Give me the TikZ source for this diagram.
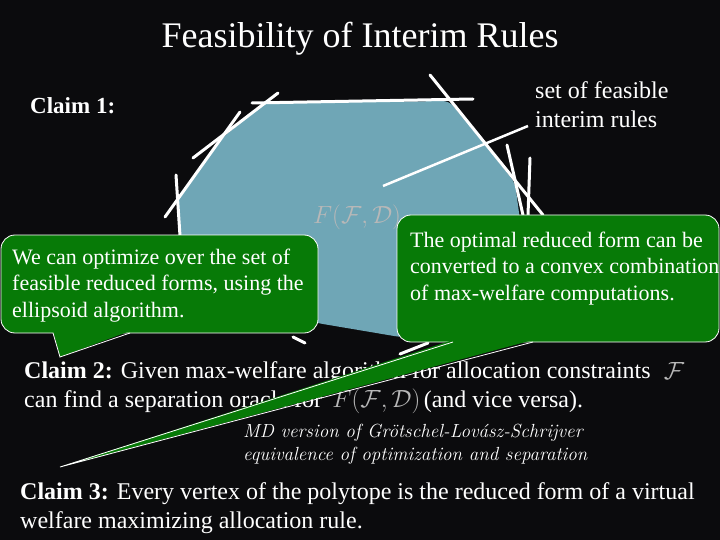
\documentclass[tikz,border=0pt]{standalone}
\usepackage{fontspec}
\newfontfamily\slidefont{Liberation Serif}
\usepackage{xcolor}
\definecolor{slideblack}{HTML}{0B0B0D}
\definecolor{polyblue}{HTML}{6FA6B6}
\definecolor{callgreen}{HTML}{077A07}
\definecolor{mathgray}{HTML}{B8B8B8}
\usetikzlibrary{positioning}
\tikzset{
  slidetext/.style={text=white,font=\slidefont\fontsize{24}{29}\selectfont,inner sep=0pt,anchor=base west},
  mathlabel/.style={text=mathgray,font=\fontsize{23}{27}\selectfont,inner sep=0pt},
  calltext/.style={text=white,font=\slidefont\fontsize{22}{26.5}\selectfont,align=left,inner sep=0pt,anchor=base west},
  tangent/.style={white,line width=3pt,line cap=round},
  callbox/.style={fill=callgreen,draw=white,line width=0.8pt,rounded corners=14pt},
  calltail/.style={draw=white,line width=0.8pt}
}
\begin{document}
\begin{tikzpicture}[x=1pt,y=-1pt]
\useasboundingbox (0,0) rectangle (720,540);
\fill[slideblack] (0,0) rectangle (720,540);
\node[text=white,font=\slidefont\fontsize{36}{40}\selectfont,inner sep=0pt,anchor=base] (title) at (360,48) {Feasibility of Interim Rules};
% the polytope and its supporting lines
\fill[polyblue,rounded corners=6pt] (265,103) -- (449,101) -- (487,147) -- (515,183) -- (522,235)
  -- (470,337) -- (400,337) -- (317,323) -- (250,300) -- (180,236) -- (178,199) -- (222,138) -- cycle;
\node[mathlabel] (poly) at (357,217) {$F(\mathcal{F},\mathcal{D})$};
\draw[tangent] (252,103) -- (473,99);
\draw[tangent] (430,75) -- (543,215);
\draw[tangent] (507,145) -- (523,215);
\draw[tangent] (530,158) -- (528,215);
\draw[tangent] (278,93) -- (193,158);
\draw[tangent] (240,112) -- (165,217);
\draw[tangent] (176,175) -- (180,236);
\draw[tangent] (293,337) -- (305,343);
\draw[tangent] (400,354) -- (428,343);
\node[slidetext,align=left] (setlabel) at (535,128) {set of feasible\\interim rules};
\coordinate (ptrstart) at (528,126);
\coordinate (inside) at (383,186);
\draw[white,line width=2.5pt] (ptrstart) -- (inside);
\node[slidetext,font=\slidefont\bfseries\fontsize{23}{27}\selectfont] (claimone) at (30,114) {Claim 1:};
% claims 2 and 3
\node[slidetext] (claimtwo) at (24,378) {\textbf{Claim 2:} Given max-welfare algorithm for allocation constraints};
\node[mathlabel] (fset) at (674,371) {$\mathcal{F}$};
\node[slidetext] (claimtwob) at (24,407) {can find a separation oracle for};
\node[mathlabel,base right=10pt of claimtwob] (polytwo) {$F(\mathcal{F},\mathcal{D})$};
\node[slidetext,base right=3pt of polytwo] (vice) {(and vice versa).};
\node[text=white,font=\itshape\fontsize{19}{23}\selectfont,align=left,inner sep=0pt,anchor=base west] (gls) at (243,460)
  {MD version of Grötschel-Lovász-Schrijver\\equivalence of optimization and separation};
\node[slidetext,align=left] (claimthree) at (20,528)
  {\textbf{Claim 3:} Every vertex of the polytope is the reduced form of a virtual\\welfare maximizing allocation rule.};
% callouts
\draw[callbox] (1,235) rectangle (318,333);
\coordinate (lefttip) at (60,357);
\fill[callgreen] (53,331) -- (lefttip) -- (130,331) -- cycle;
\draw[calltail] (53,333) -- (lefttip) -- (130,333);
\node[calltext] (ellipsoid) at (12,317) {We can optimize over the set of\\feasible reduced forms, using the\\ellipsoid algorithm.};
\draw[callbox] (397,215) rectangle (719,342);
\coordinate (righttip) at (60,467);
\fill[callgreen] (453,340) -- (righttip) -- (533,340) -- cycle;
\draw[calltail] (453,342) -- (righttip) -- (533,342);
\node[calltext] (convex) at (410,300) {The optimal reduced form can be\\converted to a convex combination\\of max-welfare computations.};
\end{tikzpicture}
\end{document}
